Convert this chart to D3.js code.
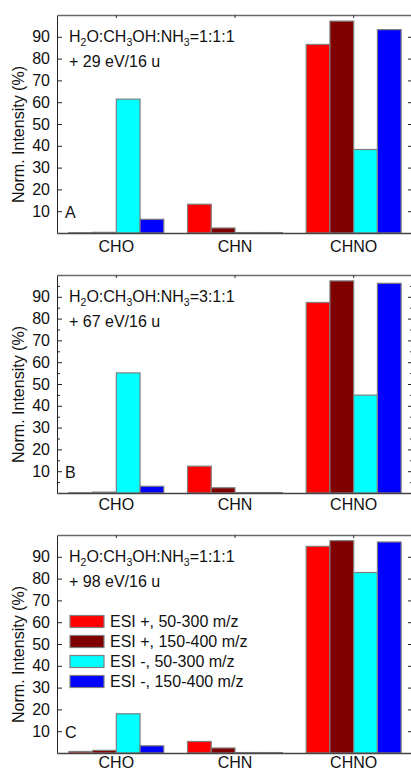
<!DOCTYPE html>
<html>
<head>
<meta charset="utf-8">
<script src="https://cdn.jsdelivr.net/npm/d3@7"></script>
<style>
  html, body { margin: 0; padding: 0; background: #fff; }
  svg { display: block; font-family: "Liberation Sans", Arial, sans-serif; }
</style>
</head>
<body>
<svg id="chart" width="411" height="771"></svg>
<script>
// ---- data ----
const categories = ["CHO", "CHN", "CHNO"];
const seriesNames = ["ESI +, 50-300 m/z", "ESI +, 150-400 m/z", "ESI -, 50-300 m/z", "ESI -, 150-400 m/z"];
const seriesColors = ["#ff0000", "#800000", "#00ffff", "#0000ff"];
const yTicks = [10, 20, 30, 40, 50, 60, 70, 80, 90];
const yMinorTicks = [5, 15, 25, 35, 45, 55, 65, 75, 85, 95];

// values per category, in series order
const panelA = [[0.1, 0.3, 61.4, 6.3], [13.2, 2.3, 0.2, 0.2], [86.5, 97.2, 38.3, 93.3]];
const panelB = [[0.1, 0.4, 55.1, 3.1], [12.3, 2.4, 0.2, 0.2], [87.4, 97.3, 44.9, 96.2]];
const panelC = [[0.7, 1.2, 18.0, 3.3], [5.3, 2.3, 0.2, 0.2], [94.8, 97.4, 82.8, 96.8]];

const panelLetters = ["A", "B", "C"];
const panelRatios = ["1:1:1", "3:1:1", "1:1:1"];
const panelEnergies = ["+ 29 eV/16 u", "+ 67 eV/16 u", "+ 98 eV/16 u"];

// ---- layout ----
const svg = d3.select("#chart");
const left = 57, right = 413;
const panelTops = [15, 275, 535];
const labelOffsets = [18.5, 16.5, 14.5];
const panelH = 218;
const panels = [panelA, panelB, panelC];
const FS = 16;

const x = d3.scaleBand().domain(categories).range([left, right]).paddingInner(0.2).paddingOuter(0.1);
const xs = d3.scaleBand().domain(d3.range(seriesNames.length)).range([0, x.bandwidth()]).padding(0);

panels.forEach((data, pi) => {
  const top = panelTops[pi];
  const bottom = top + panelH;
  const y = d3.scaleLinear().domain([0, 100]).range([bottom, top]);
  const g = svg.append("g");

  // bars
  categories.forEach((cat, ci) => {
    g.selectAll(null)
      .data(data[ci])
      .enter().append("rect")
      .attr("x", (d, si) => x(cat) + xs(si))
      .attr("width", xs.bandwidth())
      .attr("y", d => y(d))
      .attr("height", d => y(0) - y(d))
      .attr("fill", (d, si) => seriesColors[si])
      .attr("stroke", "#7f7f7f")
      .attr("stroke-width", 1.2);
  });

  // left axis
  const leftAxis = d3.axisLeft(y).tickValues(yTicks).tickSizeInner(-5).tickSizeOuter(0).tickPadding(7);
  const la = g.append("g").attr("transform", `translate(${left},0)`).call(leftAxis);
  la.select(".domain").attr("stroke", "#222");
  la.selectAll(".tick line").attr("stroke", "#222");
  la.selectAll(".tick text").attr("font-size", FS).attr("font-family", "Liberation Sans, Arial, sans-serif").attr("fill", "#111");

  // right axis (ticks only, inward)
  const rightAxis = d3.axisRight(y).tickValues(yTicks).tickSizeInner(-5).tickSizeOuter(0).tickFormat("");
  const ra = g.append("g").attr("transform", `translate(${right},0)`).call(rightAxis);
  ra.select(".domain").attr("stroke", "#555");
  ra.selectAll(".tick line").attr("stroke", "#222");

  if (pi === 1) {
    const lm = d3.axisLeft(y).tickValues(yMinorTicks).tickSizeInner(-3).tickSizeOuter(0).tickFormat("");
    const lmg = g.append("g").attr("transform", `translate(${left},0)`).call(lm);
    lmg.select(".domain").remove();
    lmg.selectAll(".tick line").attr("stroke", "#222");
    const rm = d3.axisRight(y).tickValues(yMinorTicks).tickSizeInner(-3).tickSizeOuter(0).tickFormat("");
    const rmg = g.append("g").attr("transform", `translate(${right},0)`).call(rm);
    rmg.select(".domain").remove();
    rmg.selectAll(".tick line").attr("stroke", "#222");
  }

  // top axis (ticks inward at category centres)
  const topAxis = d3.axisTop(x).tickSizeInner(-3).tickSizeOuter(0).tickFormat("");
  const ta = g.append("g").attr("transform", `translate(0,${top})`).call(topAxis);
  ta.select(".domain").attr("stroke", "#6a6a6a").attr("stroke-width", 1.5);
  ta.selectAll(".tick line").attr("stroke", "#333");

  // bottom axis with category labels
  const bottomAxis = d3.axisBottom(x).tickSize(0).tickPadding(0);
  const ba = g.append("g").attr("transform", `translate(0,${bottom})`).call(bottomAxis);
  ba.select(".domain").attr("stroke", "#444").attr("stroke-width", 1.3);
  ba.selectAll(".tick text")
    .attr("y", labelOffsets[pi]).attr("dy", 0)
    .attr("font-size", FS).attr("font-family", "Liberation Sans, Arial, sans-serif").attr("fill", "#111");

  // y title
  g.append("text")
    .attr("transform", `translate(24,${top + 119.5}) rotate(-90)`)
    .attr("text-anchor", "middle")
    .attr("font-size", FS)
    .attr("fill", "#111")
    .text("Norm. Intensity (%)");

  // composition annotation
  const t1 = g.append("text").attr("x", 69).attr("y", top + 27).attr("font-size", FS).attr("fill", "#111");
  const parts = [["H", 0], ["2", 1], ["O:CH", 0], ["3", 1], ["OH:NH", 0], ["3", 1], ["=" + panelRatios[pi], 0]];
  parts.forEach(([s, sub], i) => {
    const prevSub = i > 0 ? parts[i - 1][1] : 0;
    const ts = t1.append("tspan").text(s)
      .attr("dy", sub && !prevSub ? 4 : (!sub && prevSub ? -4 : 0));
    if (sub) ts.attr("font-size", 10.5);
  });

  g.append("text").attr("x", 69).attr("y", top + 51.5).attr("font-size", FS).attr("fill", "#111")
    .text(panelEnergies[pi]);

  g.append("text").attr("x", 65).attr("y", bottom - 15).attr("font-size", FS).attr("fill", "#111")
    .text(panelLetters[pi]);

  // legend in panel C
  if (pi === 2) {
    const lg = g.append("g");
    seriesNames.forEach((name, si) => {
      const cy = top + 86.5 + si * 20;
      lg.append("rect").attr("x", 70).attr("y", cy - 6).attr("width", 34).attr("height", 12)
        .attr("fill", seriesColors[si]).attr("stroke", "#7f7f7f").attr("stroke-width", 1.2);
      lg.append("text").attr("x", 110).attr("y", cy + 5.7).attr("font-size", FS).attr("fill", "#111").text(name);
    });
  }
});
</script>
</body>
</html>
